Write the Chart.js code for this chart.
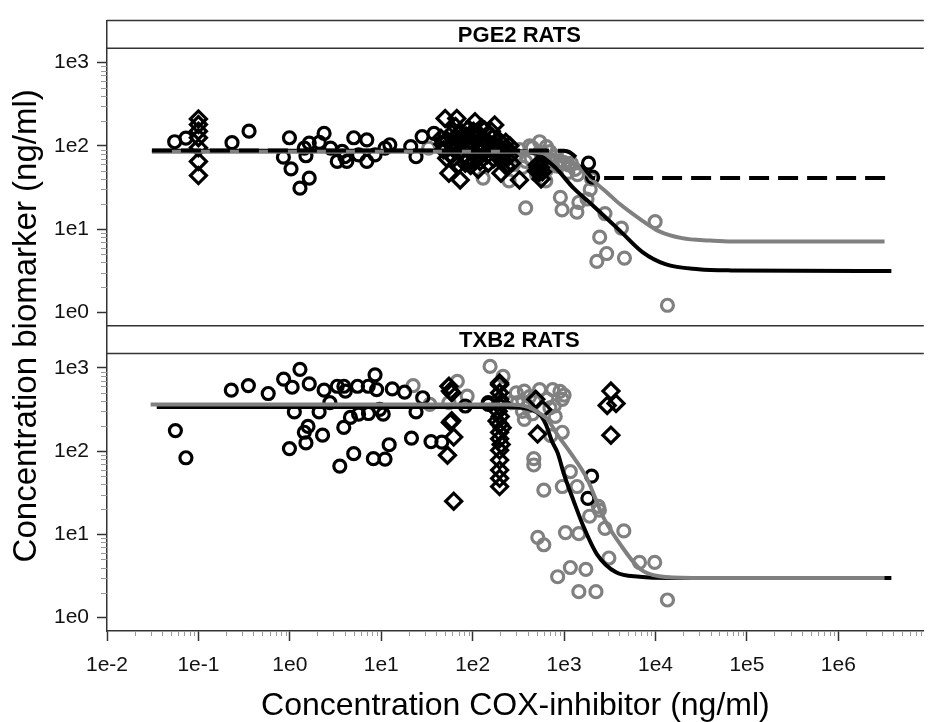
<!DOCTYPE html>
<html>
<head>
<meta charset="utf-8">
<script src="https://cdn.jsdelivr.net/npm/chart.js@4"></script>
<style>
	body { margin: 0; background: #fff; }
</style>
</head>
<body>
<canvas id="chart" width="935" height="722"></canvas>
<script>
// PGE2 panel (x = COX-inhibitor ng/ml, y = biomarker ng/ml)
const pgeBlackCircles = [[0.055,112],[0.073,124],[0.233,109],[0.358,150],[0.99,125],[0.85,73],[1.03,53],[1.29,31],[1.63,41],[1.44,94],[1.5,76],[1.63,108],[2.1,110],[2.37,141],[2.79,94],[3.3,65],[3.73,86],[4.2,65],[4.0,74],[5.0,125],[5.65,78],[6.95,118],[6.95,65],[8.55,78],[11,94],[12.4,103],[21,98],[24,74],[28,129],[37.7,141],[1850,62],[2050,42]]
const pgeDiamonds = [[0.1,210],[0.1,180],[0.1,150],[0.1,125],[0.1,95],[0.1,65],[0.1,44],[50,213],[67,213],[106,195],[174,178],[243,90],[55,47],[73,39],[115,52],[204,47],[325,39],[510,59],[580,49],[560,40],[45,123],[48,90],[59,141],[62,71],[76,108],[83,62],[98,135],[106,82],[135,155],[130,98],[148,62],[190,118],[205,78],[233,57],[265,62],[52,71],[60,100],[70,85],[80,120],[90,95],[100,110],[110,75],[120,130],[140,110],[160,90],[170,70],[180,100],[200,95],[220,80],[90,160],[65,170],[150,140],[230,110],[250,75],[120,65],[95,58],[520,55],[540,62],[500,50],[47,105],[53,115],[57,80],[64,125],[68,95],[72,140],[78,75],[85,130],[88,70],[94,115],[102,150],[112,92],[118,105],[125,85],[132,120],[145,78],[155,105],[165,125],[175,82],[185,88],[195,72],[210,105],[215,68],[240,88],[255,100],[125,165],[112,145],[160,150],[70,60],[105,65],[530,48],[550,55]]
const pgeGrayCircles = [[33,94],[130,41],[250,38],[325,90],[380,65],[540,112],[640,98],[630,38],[1070,74],[1120,59],[1320,52],[380,18],[910,24],[950,17],[1450,21],[1380,16],[1930,30],[1780,23],[720,68],[840,57],[435,71],[555,82],[2000,40],[2800,15.4],[4240,10.3],[2450,8.0],[2920,5.1],[2280,4.1],[4570,4.5],[9900,12.3],[13500,1.22],[300,75],[350,55],[450,95],[600,60],[700,85],[800,75],[900,66],[1000,63],[1200,62],[1100,48],[650,52],[500,45],[420,100],[280,60],[1400,45]]
const pgeDashedFit = [[0.031,88],[300,88],[1000,87],[1400,70],[1800,48],[2100,41],[4e6,41]]
const pgeGrayFit = [[0.031,85],[300,85],[700,80],[1000,72],[1500,55],[2100,38],[3000,27],[4070,20],[7200,12.6],[11000,9.4],[19500,7.8],[40000,7.3],[68000,7.1],[3.2e6,7.1]]
const pgeBlackFit = [[0.031,87],[250,87],[500,80],[800,55],[1270,31],[2090,19],[4070,9.6],[7200,5.3],[12800,3.8],[29600,3.3],[68000,3.2],[3.8e6,3.15]]

// TXB2 panel
const txbBlackCircles = [[0.056,176],[0.073,83],[0.229,537],[0.352,610],[0.58,490],[0.855,731],[1.06,583],[1.29,957],[1.63,638],[1.12,295],[0.99,107],[1.44,168],[1.58,198],[1.5,125],[2.28,155],[2.09,295],[2.37,537],[2.74,380],[3.3,599],[3.9,599],[4.05,524],[3.89,192],[4.6,253],[5.65,277],[7.25,282],[3.52,66],[5.0,93],[5.5,599],[7.2,599],[8.55,822],[8.9,546],[8.2,81],[11,80],[12.2,119],[9.6,317],[10.5,277],[13.2,556],[18,510],[24,295],[28.4,436],[21.4,143],[35,130],[46,128],[148,363],[83,347],[148,380],[2000,50],[1820,27]]
const txbDiamonds = [[55,599],[57,524],[59,231],[62,147],[53,89],[62,25],[59,500],[57,220],[197,656],[197,626],[197,500],[197,417],[197,347],[197,210],[197,168],[197,140],[197,102],[197,78],[197,59],[197,47],[197,37.5],[205,380],[190,300],[200,260],[210,190],[185,230],[205,120],[490,417],[582,316],[513,160],[3250,524],[2960,353],[3700,372],[3250,155]]
const txbGrayCircles = [[22.3,610],[34,363],[68,687],[55,380],[87,456],[155,1035],[215,788],[367,524],[310,380],[367,240],[540,546],[750,546],[955,417],[780,347],[716,153],[955,168],[466,81],[466,68],[600,34],[955,37.5],[1170,56.5],[1385,37.5],[2370,21.7],[265,380],[400,347],[1900,16.5],[2430,19.5],[2800,11.8],[4500,11],[3090,5.2],[6680,4.6],[9800,4.6],[13500,1.63],[515,9.2],[600,7.5],[1035,10.5],[1450,10.2],[850,3.1],[1170,4.0],[1730,3.8],[1450,2.05],[2230,2.05],[300,500],[420,450],[480,390],[350,300],[650,420],[700,330],[900,520],[1000,470],[450,280],[800,260]]
const txbGrayFit = [[0.03,363],[250,363],[400,340],[556,277],[656,241],[870,150],[1175,95],[1775,47],[2690,16],[4080,7.7],[6680,3.9],[11000,3.14],[25000,3.0],[3.2e6,3.0]]
const txbBlackFit = [[0.035,338],[250,338],[400,320],[550,270],[630,210],[743,128],[850,95],[1000,52],[1274,25],[1620,12.6],[2280,5.8],[3700,3.5],[6680,3.1],[15000,3.0],[3.8e6,3.0]]

const panelTitles = { yTop: 'PGE2 RATS', yBot: 'TXB2 RATS' }
const xTickPowers = [-2, -1, 0, 1, 2, 3, 4, 5, 6]
const yTickPowers = [0, 1, 2, 3]
const xTitle = 'Concentration COX-inhibitor (ng/ml)'
const yTitle = 'Concentration biomarker (ng/ml)'

const FONT = 'Liberation Sans, Arial, sans-serif'
const GRAY = '#808080'
const plotMin = Math.pow(10, -0.16)
const plotTop = Math.pow(10, 3.17)
const stripTop = Math.pow(10, 3.503)

const pts = arr => arr.map(([x, y]) => ({ x, y }))

const markers = (data, axis, color, style) => ({
	data: pts(data),
	yAxisID: axis,
	showLine: false,
	pointStyle: style,
	pointRadius: style === 'rectRot' ? 8 : 6,
	pointBorderWidth: 3.2,
	pointBorderColor: color,
	pointBackgroundColor: 'transparent',
})

const curve = (data, axis, color, dash) => ({
	data: pts(data),
	yAxisID: axis,
	showLine: true,
	pointRadius: 0,
	borderColor: color,
	borderWidth: 4,
	borderDash: dash || [],
	cubicInterpolationMode: 'monotone',
	borderCapStyle: 'butt',
})

const panelFrame = {
	id: 'panelFrame',
	afterDatasetsDraw(chart) {
		const { ctx, chartArea: a } = chart
		ctx.save()
		Object.keys(panelTitles).forEach(id => {
			const s = chart.scales[id]
			const bottom = s.getPixelForValue(plotTop)
			ctx.fillStyle = '#fff'
			ctx.fillRect(a.left + 1, s.top, a.right - a.left, bottom - s.top)
			ctx.strokeStyle = '#333'
			ctx.lineWidth = 1.5
			ctx.beginPath()
			ctx.moveTo(a.left, s.top)
			ctx.lineTo(a.right, s.top)
			ctx.moveTo(a.left, bottom)
			ctx.lineTo(a.right, bottom)
			ctx.stroke()
			ctx.fillStyle = '#000'
			ctx.font = 'bold 22px ' + FONT
			ctx.textAlign = 'center'
			ctx.textBaseline = 'middle'
			ctx.fillText(panelTitles[id], (a.left + a.right) / 2 + 4, (s.top + bottom) / 2 + 1)
		})
		ctx.restore()
	},
	afterDraw(chart) {
		const { ctx, chartArea: a } = chart
		ctx.save()
		ctx.strokeStyle = '#999'
		ctx.lineWidth = 1
		ctx.beginPath()
		const x = chart.scales.x
		xTickPowers.concat([7]).forEach(p => {
			for (let m = 2; m <= 9; m++) {
				const v = m * Math.pow(10, p - 1)
				if (v < x.min || v > x.max) continue
				const px = Math.round(x.getPixelForValue(v)) + 0.5
				ctx.moveTo(px, a.bottom)
				ctx.lineTo(px, a.bottom + 5)
			}
		})
		Object.keys(panelTitles).forEach(id => {
			const s = chart.scales[id]
			yTickPowers.forEach(p => {
				for (let m = 2; m <= 9; m++) {
					const v = m * Math.pow(10, p)
					if (v > plotTop) continue
					const py = Math.round(s.getPixelForValue(v)) + 0.5
					ctx.moveTo(a.left - 6, py)
					ctx.lineTo(a.left, py)
				}
			})
		})
		ctx.stroke()
		ctx.fillStyle = '#000'
		ctx.font = '33px ' + FONT
		ctx.textAlign = 'center'
		ctx.textBaseline = 'middle'
		ctx.translate(27, (a.top + a.bottom) / 2)
		ctx.rotate(-Math.PI / 2)
		ctx.fillText(yTitle, 0, 0)
		ctx.restore()
	},
}

const yScale = () => ({
	type: 'logarithmic',
	position: 'left',
	stack: 'panels',
	stackWeight: 1,
	min: plotMin,
	max: stripTop,
	afterFit: s => { s.width = 107 },
	afterBuildTicks: s => { s.ticks = yTickPowers.map(p => ({ value: Math.pow(10, p) })) },
	border: { color: '#333', width: 1.5 },
	grid: { drawOnChartArea: false, tickLength: 10, tickColor: '#333', tickWidth: 1.5 },
	ticks: {
		padding: 8,
		color: '#111',
		font: { family: FONT, size: 21 },
		callback: v => '1e' + Math.round(Math.log10(v)),
	},
})

new Chart(document.getElementById('chart'), {
	type: 'scatter',
	data: {
		datasets: [
			curve(pgeDashedFit, 'yTop', '#000', [20, 9]),
			curve(pgeGrayFit, 'yTop', GRAY),
			curve(pgeBlackFit, 'yTop', '#000'),
			curve(txbGrayFit, 'yBot', GRAY),
			curve(txbBlackFit, 'yBot', '#000'),
			markers(pgeDiamonds, 'yTop', '#000', 'rectRot'),
			markers(txbDiamonds, 'yBot', '#000', 'rectRot'),
			markers(pgeBlackCircles, 'yTop', '#000', 'circle'),
			markers(txbBlackCircles, 'yBot', '#000', 'circle'),
			markers(pgeGrayCircles, 'yTop', GRAY, 'circle'),
			markers(txbGrayCircles, 'yBot', GRAY, 'circle'),
		],
	},
	options: {
		responsive: false,
		animation: false,
		layout: { padding: { top: 14, left: 0, right: 0, bottom: 0 } },
		plugins: { legend: { display: false }, tooltip: { enabled: false } },
		scales: {
			x: {
				type: 'logarithmic',
				min: 0.01,
				max: 8.6e6,
				afterFit: s => { s.height = 91 },
				afterBuildTicks: s => { s.ticks = xTickPowers.map(p => ({ value: Math.pow(10, p) })) },
				border: { color: '#333', width: 1.5 },
				grid: { drawOnChartArea: false, tickLength: 10, tickColor: '#333', tickWidth: 1.5 },
				ticks: {
					autoSkip: false,
					maxRotation: 0,
					padding: 12,
					color: '#111',
					font: { family: FONT, size: 21 },
					callback: v => '1e' + Math.round(Math.log10(v)),
				},
				title: {
					display: true,
					text: xTitle,
					color: '#000',
					font: { family: FONT, size: 32, lineHeight: 1 },
					padding: { top: 0, bottom: 0 },
				},
			},
			// stacked scales: the one declared last ends up on top
			yBot: yScale(),
			yTop: yScale(),
		},
	},
	plugins: [panelFrame],
})
</script>
</body>
</html>
